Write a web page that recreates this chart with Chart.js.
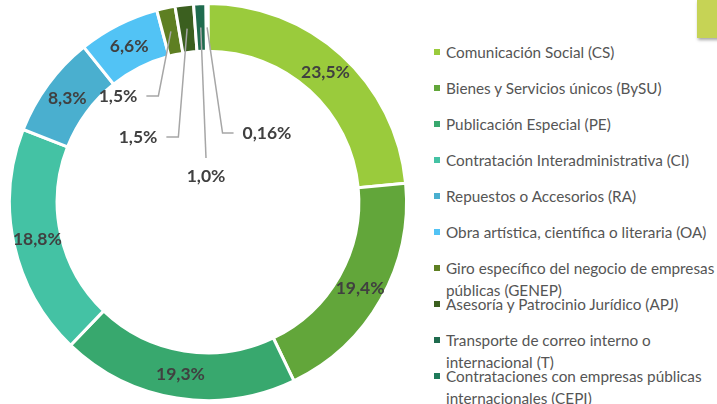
<!DOCTYPE html>
<html lang="es">
<head>
<meta charset="utf-8">
<script src="https://cdn.jsdelivr.net/npm/chart.js@4.4.1/dist/chart.umd.min.js"></script>
<style>
  html, body { margin: 0; padding: 0; background: #ffffff; }
  body { width: 717px; height: 404px; position: relative; overflow: hidden; font-family: Lato, "Open Sans", sans-serif; }
  #chartBox { position: absolute; left: 0; top: 0; width: 416px; height: 404px; }
  #legend { position: absolute; left: 434px; top: 41px; margin: 0; padding: 0; list-style: none; }
  #legend li { height: 36px; line-height: 22px; font-size: 15.3px; color: #555555; white-space: nowrap; position: relative; padding-left: 12px; }
  #legend li span.box { position: absolute; left: 0; top: 8px; width: 6px; height: 6px; }
  #corner { position: absolute; left: 697px; top: 0; width: 30px; height: 38px; background: #c6d355; box-shadow: 1px 2px 3px rgba(0,0,0,0.35); }
</style>
</head>
<body>
<div id="chartBox"><canvas id="donut"></canvas></div>
<ul id="legend"></ul>
<div id="corner"></div>
<script>
const categories = [
  ["Comunicación Social (CS)"],
  ["Bienes y Servicios únicos (BySU)"],
  ["Publicación Especial (PE)"],
  ["Contratación Interadministrativa (CI)"],
  ["Repuestos o Accesorios (RA)"],
  ["Obra artística, científica o literaria (OA)"],
  ["Giro específico del negocio de empresas", "públicas (GENEP)"],
  ["Asesoría y Patrocinio Jurídico (APJ)"],
  ["Transporte de correo interno o", "internacional (T)"],
  ["Contrataciones con empresas públicas", "internacionales (CEPI)"],
];
const shares = [23.5, 19.4, 19.3, 18.8, 8.3, 6.6, 1.5, 1.5, 1.0, 0.16];
const sliceColors = [
  "#9acb3c", "#62a63a", "#38a86e", "#44c2a4", "#4aafcf",
  "#52c3f5", "#5e7f22", "#3b5f1f", "#1f6b4e", "#1e7a5a",
];

// label placement for the thin slices, relative to the donut centre
const callouts = [null, null, null, null, null, null,
  { dx: -90, dy: -106, side: "left" },
  { dx: -70, dy: -65, side: "left" },
  { dx: -2, dy: -26, side: "below" },
  { dx: 59, dy: -69, side: "right" },
];

const LABEL_FONT = "bold 17.5px Lato";
const LABEL_COLOR = "#404040";
const LEADER_COLOR = "#a6a6a6";

function formatShare(value) {
  return `${value.toFixed(value < 0.5 ? 2 : 1).replace(".", ",")}%`;
}

const sliceLabels = {
  id: "sliceLabels",
  afterDatasetsDraw(chart) {
    const ctx = chart.ctx;
    const meta = chart.getDatasetMeta(0);

    ctx.save();
    ctx.font = LABEL_FONT;
    ctx.fillStyle = LABEL_COLOR;
    ctx.textBaseline = "middle";
    ctx.textAlign = "center";

    meta.data.forEach((arc, i) => {
      const { x, y, startAngle, endAngle, innerRadius, outerRadius } = arc.getProps(
        ["x", "y", "startAngle", "endAngle", "innerRadius", "outerRadius"],
        true,
      );
      const mid = (startAngle + endAngle) / 2;
      const ringMid = (innerRadius + outerRadius) / 2;
      const text = formatShare(shares[i]);
      const callout = callouts[i];

      if (!callout) {
        ctx.fillText(text, x + Math.cos(mid) * ringMid, y + Math.sin(mid) * ringMid);
        return;
      }

      const sx = x + Math.cos(mid) * ringMid;
      const sy = y + Math.sin(mid) * ringMid;
      const lx = x + callout.dx;
      const ly = y + callout.dy;
      const half = ctx.measureText(text).width / 2;

      ctx.strokeStyle = LEADER_COLOR;
      ctx.lineWidth = 1.5;
      ctx.beginPath();
      ctx.moveTo(sx, sy);
      if (callout.side === "left") {
        ctx.lineTo(lx + half + 21, ly);
        ctx.lineTo(lx + half + 9, ly);
      } else if (callout.side === "right") {
        ctx.lineTo(lx - half - 20, ly);
        ctx.lineTo(lx - half - 9, ly);
      } else {
        ctx.lineTo(lx, ly - 18);
      }
      ctx.stroke();
      ctx.fillText(text, lx, ly);
    });

    ctx.restore();
  },
};

const donutChart = new Chart(document.getElementById("donut"), {
  type: "doughnut",
  data: {
    labels: categories,
    datasets: [
      {
        data: shares,
        backgroundColor: sliceColors,
        borderColor: "#ffffff",
        borderWidth: 3,
      },
    ],
  },
  options: {
    responsive: true,
    maintainAspectRatio: false,
    animation: false,
    cutout: "76%",
    layout: { padding: 2 },
    plugins: {
      legend: { display: false },
      tooltip: { enabled: false },
    },
  },
  plugins: [sliceLabels],
});

const legendList = document.getElementById("legend");
donutChart.data.labels.forEach((lines, i) => {
  const item = document.createElement("li");
  const box = document.createElement("span");
  box.className = "box";
  box.style.background = sliceColors[i];
  item.append(box);
  lines.forEach((line, j) => {
    if (j > 0) item.append(document.createElement("br"));
    item.append(document.createTextNode(line));
  });
  legendList.append(item);
});
</script>
</body>
</html>
